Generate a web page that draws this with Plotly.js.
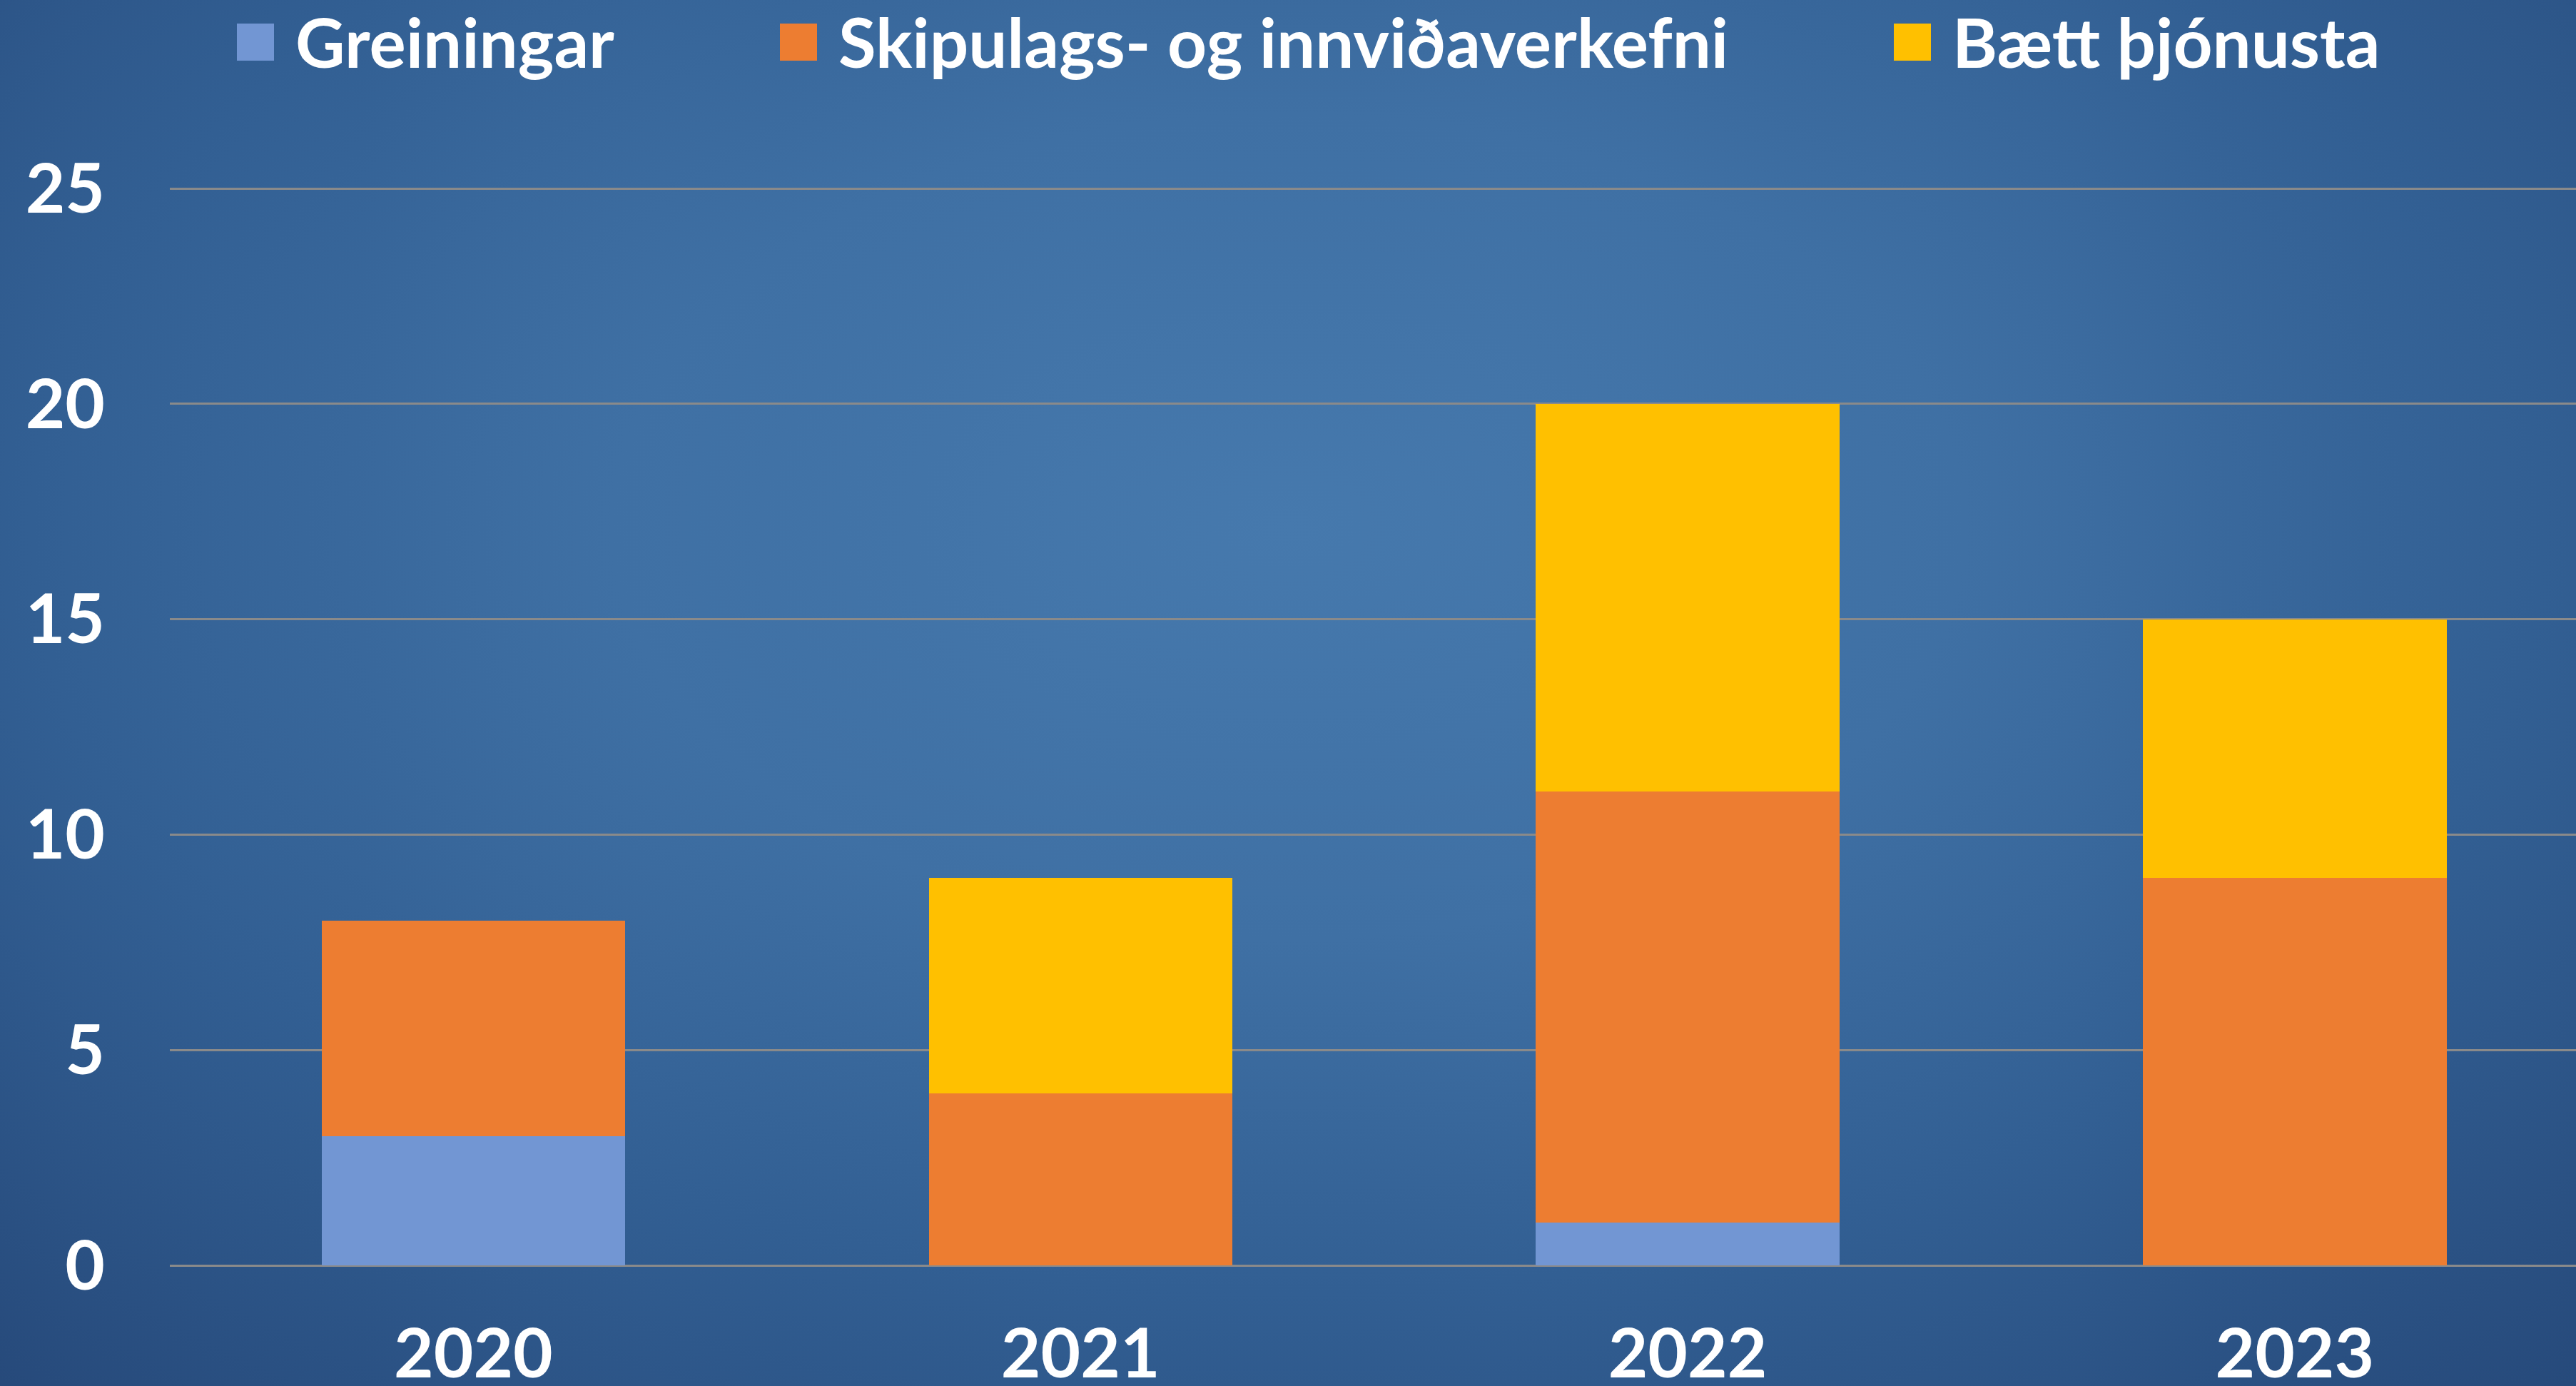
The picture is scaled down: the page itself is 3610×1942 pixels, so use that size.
<!DOCTYPE html>
<html>
<head>
<meta charset="utf-8">
<script src="https://cdn.plot.ly/plotly-3.0.1.min.js"></script>
<style>
  html, body { margin: 0; padding: 0; }
  body {
    width: 3610px; height: 1942px; overflow: hidden;
    background: radial-gradient(ellipse 75% 85% at 50% 38%, #4679ad 0%, #3f70a4 35%, #325f93 65%, #26497a 100%);
  }
  #chart { width: 3610px; height: 1942px; }
</style>
</head>
<body>
<div id="chart"></div>
<script>
// ---- data ----
const years = ['2020', '2021', '2022', '2023'];
const seriesNames = ['Greiningar', 'Skipulags- og innviðaverkefni', 'Bætt þjónusta'];
const greiningar = [3, 0, 1, 0];
const skipulags = [5, 4, 10, 9];
const baettThjonusta = [0, 5, 9, 6];
const yTicks = [0, 5, 10, 15, 20, 25];

// ---- styles ----
const colors = ['#7296D3', '#ED7D31', '#FFC000'];
const W = 3610, H = 1942;
const M = {l: 238, r: 0, t: 263, b: 169};
const plotW = W - M.l - M.r, plotH = H - M.t - M.b;
const fontFam = 'Lato, "Open Sans", "DejaVu Sans", sans-serif';

const values = [greiningar, skipulags, baettThjonusta];
const traces = seriesNames.map((name, i) => ({
  type: 'bar',
  name: name,
  x: years,
  y: values[i],
  marker: {color: colors[i], line: {width: 0}},
  hoverinfo: 'x+y+name',
  showlegend: false
}));

// custom legend (large square swatches, like the original)
const legendPx = [332, 1093, 2654];   // left edge of each swatch, px
const swatch = 52;
const legendCenterPx = 59;            // vertical centre of the legend row, px
const px2x = p => (p - M.l) / plotW;
const px2y = p => (H - M.b - p) / plotH;
const shapes = [], annotations = [];
seriesNames.forEach((name, i) => {
  shapes.push({
    type: 'rect', xref: 'paper', yref: 'paper',
    x0: px2x(legendPx[i]), x1: px2x(legendPx[i] + swatch),
    y0: px2y(legendCenterPx + swatch / 2), y1: px2y(legendCenterPx - swatch / 2),
    fillcolor: colors[i], line: {width: 0}, layer: 'above'
  });
  annotations.push({
    xref: 'paper', yref: 'paper',
    x: px2x(legendPx[i] + swatch + 28), y: px2y(legendCenterPx - 2),
    xanchor: 'left', yanchor: 'middle',
    text: name, showarrow: false,
    font: {family: fontFam, size: 96, color: '#ffffff', weight: 'bold'}
  });
});

const catW = plotW / (3.5 - (-0.5) + 0); // placeholder, not used for data
const layout = {
  width: W, height: H,
  margin: M,
  paper_bgcolor: 'rgba(0,0,0,0)',
  plot_bgcolor: 'rgba(0,0,0,0)',
  barmode: 'stack',
  bargap: 0.5,
  showlegend: false,
  font: {family: fontFam, size: 96, color: '#ffffff', weight: 'bold'},
  xaxis: {
    type: 'category',
    range: [-0.5, 3.4633],
    showgrid: false, zeroline: false, showline: false,
    ticks: '',
    tickfont: {family: fontFam, size: 96, color: '#ffffff', weight: 'bold'},
    ticklabelstandoff: 60,
    fixedrange: true
  },
  yaxis: {
    range: [0, 25.02],
    tickvals: yTicks,
    ticktext: yTicks.map(String),
    showgrid: true, gridcolor: '#8a8a8a', gridwidth: 3,
    zeroline: true, zerolinecolor: '#8a8a8a', zerolinewidth: 3,
    showline: false, ticks: '',
    tickfont: {family: fontFam, size: 96, color: '#ffffff', weight: 'bold'},
    ticklabelstandoff: 90,
    fixedrange: true
  },
  shapes: shapes,
  annotations: annotations
};

Plotly.newPlot('chart', traces, layout, {displayModeBar: false, staticPlot: true});
</script>
</body>
</html>
